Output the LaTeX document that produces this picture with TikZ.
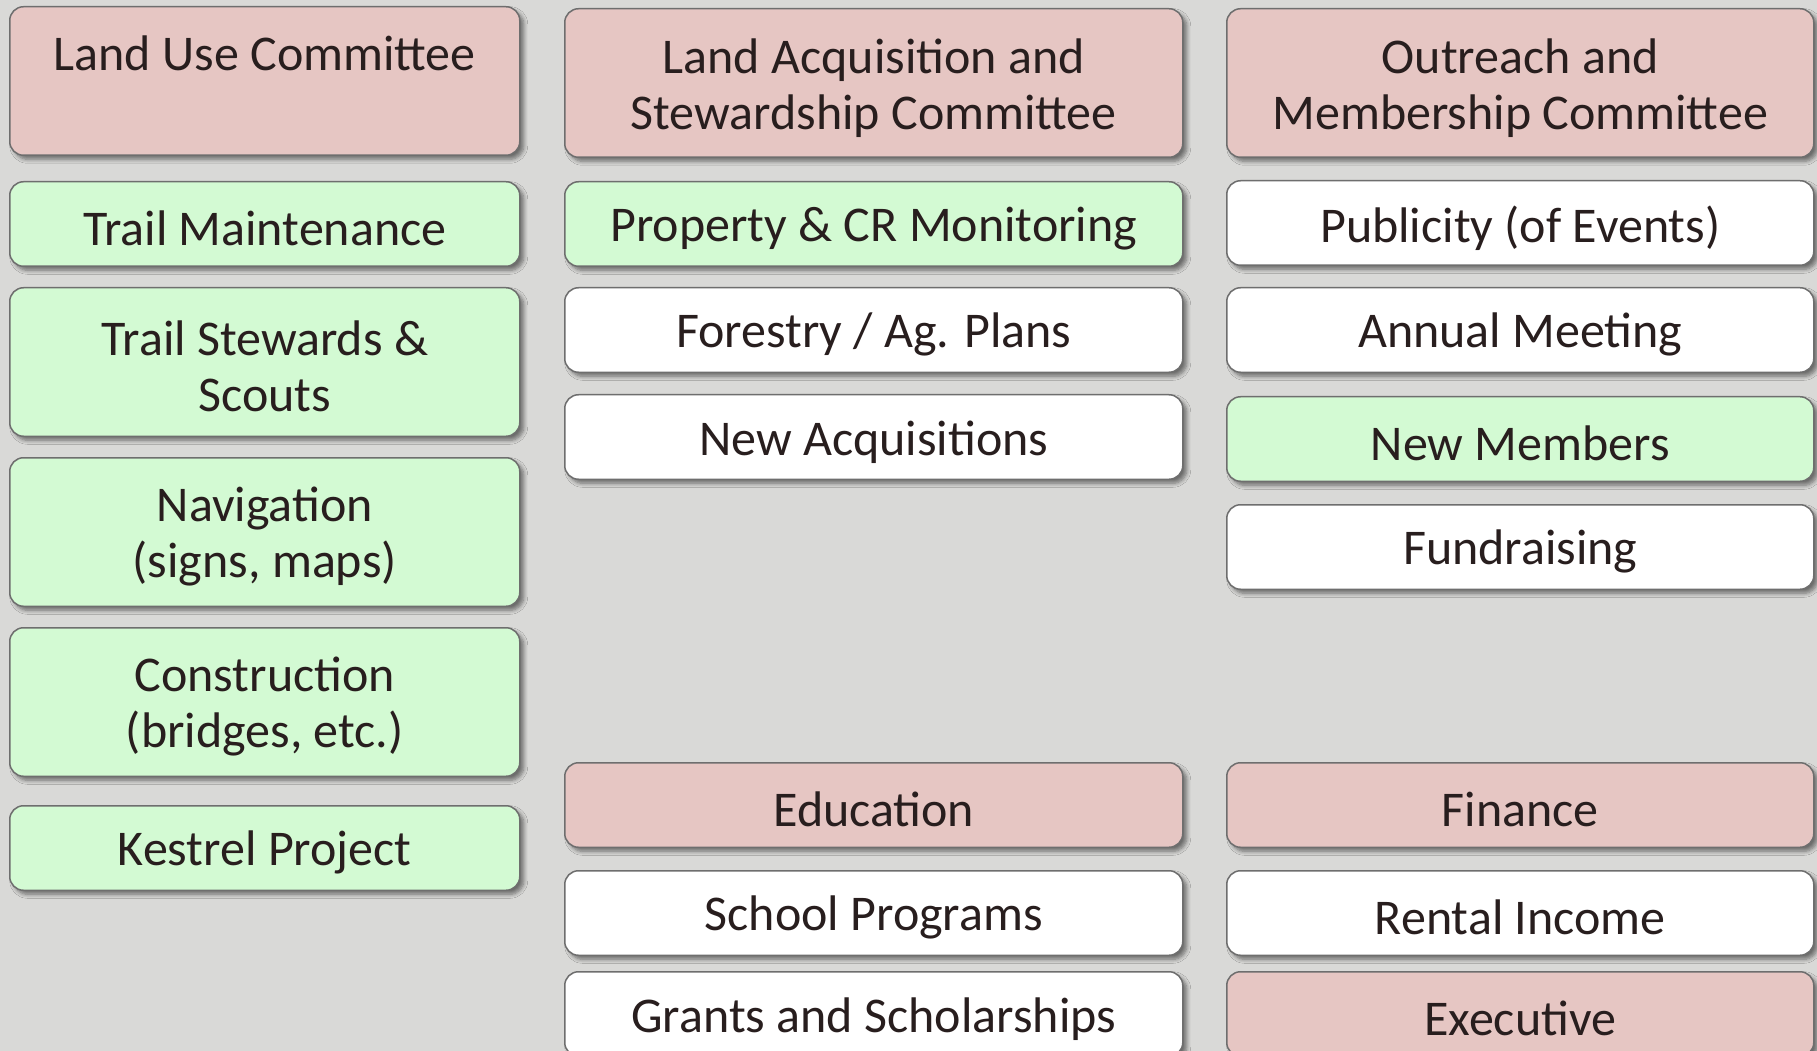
\documentclass[tikz,border=0pt]{standalone}
\usepackage{fontspec}
\newfontfamily\boxfont{Carlito}
\usetikzlibrary{shadows,shadows.blur}
\definecolor{bgc}{RGB}{217,217,215}
\definecolor{pinkc}{RGB}{230,198,195}
\definecolor{greenc}{RGB}{211,250,211}
\definecolor{boxline}{RGB}{110,110,110}
\definecolor{txt}{RGB}{40,30,30}
\tikzset{
  box/.style={draw=boxline, line width=0.6pt, rounded corners=5.5pt, anchor=north west,
    inner sep=0pt,
    blur shadow={shadow xshift=1.6pt, shadow yshift=-1.6pt, shadow blur steps=6,
      shadow blur radius=1.6pt, shadow opacity=50}},
  boxtext/.style={align=center, text=txt, inner sep=0pt, yshift=-1.9pt,
    font={\boxfont\fontsize{20}{22.4}\selectfont}},
  pinkbox/.style={box, fill=pinkc},
  greenbox/.style={box, fill=greenc},
  whitebox/.style={box, fill=white},
  wa/.style={minimum width=204pt},
  wb/.style={minimum width=247.2pt},
  wc/.style={minimum width=234.8pt},
  tallbox/.style={minimum height=59.4pt},
  shortbox/.style={minimum height=33.8pt},
  txt/.style={label={[boxtext]center:#1}},
  toptxt/.style={label={[boxtext, yshift=1.9pt]center:#1}}
}
\begin{document}
\begin{tikzpicture}[x=0.4pt,y=-0.4pt]
\clip (0,0) rectangle (1817,1051);
\fill[bgc] (0,0) rectangle (1817,1051);
% column 1
\node[pinkbox, wa, tallbox, toptxt={Land Use Committee\\ \mbox{}}] (lu) at (9,6) {};
\node[greenbox, wa, shortbox, txt={Trail Maintenance}] (tm) at (9,181) {};
\node[greenbox, wa, tallbox, txt={Trail Stewards \&\\ Scouts}] (ts) at (9,287) {};
\node[greenbox, wa, tallbox, txt={Navigation\\ (signs, maps)}] (nav) at (9,457) {};
\node[greenbox, wa, tallbox, txt={Construction\\ (bridges, etc.)}] (con) at (9,627) {};
\node[greenbox, wa, shortbox, txt={Kestrel Project}] (kes) at (9,805) {};
% column 2
\node[pinkbox, wb, tallbox, txt={Land Acquisition and\\ Stewardship Committee}] (la) at (564,8) {};
\node[greenbox, wb, shortbox, txt={Property \& CR Monitoring}] (pm) at (564,181) {};
\node[whitebox, wb, shortbox, txt={Forestry / Ag. Plans}] (fa) at (564,287) {};
\node[whitebox, wb, shortbox, txt={New Acquisitions}] (na) at (564,394) {};
\node[pinkbox, wb, shortbox, txt={Education}] (edu) at (564,762) {};
\node[whitebox, wb, shortbox, txt={School Programs}] (sp) at (564,870) {};
\node[whitebox, wb, shortbox, txt={Grants and Scholarships}] (gs) at (564,971) {};
% column 3
\node[pinkbox, wc, tallbox, txt={Outreach and\\ Membership Committee}] (om) at (1226,8) {};
\node[whitebox, wc, shortbox, txt={Publicity (of Events)}] (pub) at (1226,180) {};
\node[whitebox, wc, shortbox, txt={Annual Meeting}] (am) at (1226,287) {};
\node[greenbox, wc, shortbox, txt={New Members}] (nm) at (1226,396) {};
\node[whitebox, wc, shortbox, txt={Fundraising}] (fr) at (1226,504) {};
\node[pinkbox, wc, shortbox, txt={Finance}] (fin) at (1226,762) {};
\node[whitebox, wc, shortbox, txt={Rental Income}] (ri) at (1226,870) {};
\node[pinkbox, wc, shortbox, txt={Executive}] (ex) at (1226,971) {};
\end{tikzpicture}
\end{document}
